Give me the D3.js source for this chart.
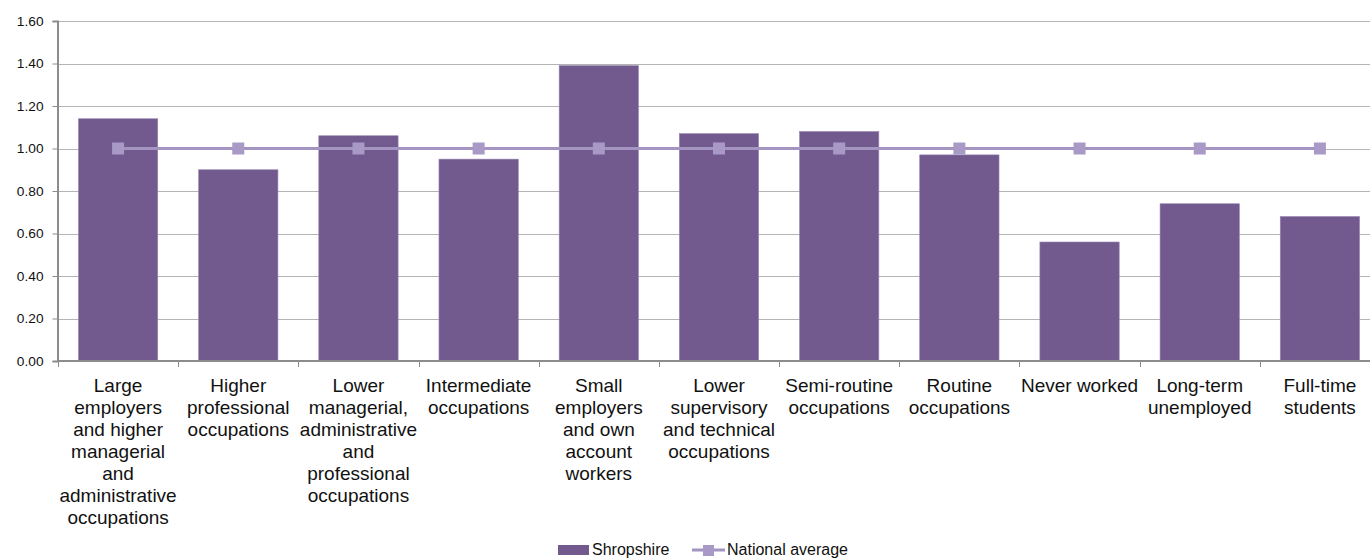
<!DOCTYPE html>
<html>
<head>
<meta charset="utf-8">
<script src="https://cdn.jsdelivr.net/npm/d3@7"></script>
<style>
  html, body { margin: 0; padding: 0; background: #fff; }
  svg { display: block; font-family: "Liberation Sans", Arial, sans-serif; }
</style>
</head>
<body>
<svg id="chart" width="1370" height="558"></svg>
<script>
const categories = [
  "Large employers and higher managerial and administrative occupations",
  "Higher professional occupations",
  "Lower managerial, administrative and professional occupations",
  "Intermediate occupations",
  "Small employers and own account workers",
  "Lower supervisory and technical occupations",
  "Semi-routine occupations",
  "Routine occupations",
  "Never worked",
  "Long-term unemployed",
  "Full-time students"
];
const shropshire = [1.14, 0.90, 1.06, 0.95, 1.39, 1.07, 1.08, 0.97, 0.56, 0.74, 0.68];
const nationalAverage = [1, 1, 1, 1, 1, 1, 1, 1, 1, 1, 1];
const yTicks = [0, 0.2, 0.4, 0.6, 0.8, 1.0, 1.2, 1.4, 1.6];
const seriesNames = ["Shropshire", "National average"];

const barColor = "#725a8f";
const lineColor = "#a394c2";
const markerColor = "#a899c6";

const svg = d3.select("#chart");
const mLeft = 58, mTop = 21, plotW = 1322, plotH = 340;
const W = 1370;

const x = d3.scaleBand().domain(categories).range([mLeft, mLeft + plotW])
  .paddingInner(0.34).paddingOuter(0.17);
const y = d3.scaleLinear().domain([0, 1.6]).range([mTop + plotH, mTop]);

// gridlines
svg.append("g").selectAll("line").data(yTicks.filter(d => d > 0)).join("line")
  .attr("x1", mLeft).attr("x2", W)
  .attr("y1", d => Math.round(y(d)) + 0.5).attr("y2", d => Math.round(y(d)) + 0.5)
  .attr("stroke", "#b4b4b4").attr("stroke-width", 1);

// bars
svg.append("g").selectAll("rect").data(categories).join("rect")
  .attr("x", d => x(d))
  .attr("y", (d, i) => y(shropshire[i]))
  .attr("width", x.bandwidth())
  .attr("height", (d, i) => y(0) - y(shropshire[i]))
  .attr("fill", barColor)
  .attr("stroke", "#9888b0").attr("stroke-width", 0.6);

// y axis
const yAxis = svg.append("g").attr("transform", `translate(${mLeft - 0.5},0)`)
  .call(d3.axisLeft(y).tickValues(yTicks).tickFormat(d3.format(".2f")).tickSize(5).tickPadding(9));
yAxis.select(".domain").attr("stroke", "#8c8c8c").attr("stroke-width", 2);
yAxis.selectAll(".tick line").attr("stroke", "#8c8c8c");
yAxis.selectAll(".tick text").attr("font-size", "13.7px").attr("fill", "#111")
  .attr("font-family", "Liberation Sans, Arial, sans-serif");

// x axis line
svg.append("line").attr("x1", mLeft - 1).attr("x2", W)
  .attr("y1", y(0)).attr("y2", y(0))
  .attr("stroke", "#8c8c8c").attr("stroke-width", 2);
// x ticks at band boundaries
const step = x.step();
svg.append("g").selectAll("line").data(d3.range(categories.length + 1)).join("line")
  .attr("x1", i => Math.round(mLeft + i * step) + 0.5).attr("x2", i => Math.round(mLeft + i * step) + 0.5)
  .attr("y1", y(0)).attr("y2", y(0) + 6)
  .attr("stroke", "#8c8c8c").attr("stroke-width", 1);

// x labels with wrapping
const fontSize = 19, lineH = 22, maxW = step - 1;
const labelG = svg.append("g").attr("font-size", fontSize + "px").attr("fill", "#111").attr("text-anchor", "middle");
categories.forEach(c => {
  const t = labelG.append("text").attr("x", x(c) + x.bandwidth() / 2).attr("y", 392);
  const words = c.split(" ");
  let lines = [], cur = [];
  const probe = labelG.append("text").attr("visibility", "hidden");
  words.forEach(w => {
    const test = cur.concat([w]).join(" ");
    probe.text(test);
    if (cur.length && probe.node().getComputedTextLength() > maxW) {
      lines.push(cur.join(" "));
      cur = [w];
    } else cur.push(w);
  });
  lines.push(cur.join(" "));
  probe.remove();
  lines.forEach((l, i) => {
    t.append("tspan").attr("x", x(c) + x.bandwidth() / 2).attr("dy", i === 0 ? 0 : lineH).text(l);
  });
});

// national average line
const cx = c => x(c) + x.bandwidth() / 2;
svg.append("path").datum(categories)
  .attr("d", d3.line().x(c => cx(c)).y((c, i) => y(nationalAverage[i])))
  .attr("fill", "none").attr("stroke", lineColor).attr("stroke-width", 3);
svg.append("g").selectAll("rect").data(categories).join("rect")
  .attr("x", c => cx(c) - 6).attr("y", (c, i) => y(nationalAverage[i]) - 6)
  .attr("width", 12).attr("height", 12).attr("fill", markerColor);

// legend
const lg = svg.append("g").attr("font-size", "16px").attr("fill", "#111");
lg.append("rect").attr("x", 558).attr("y", 545).attr("width", 31).attr("height", 10).attr("fill", barColor);
lg.append("text").attr("x", 592).attr("y", 554.5).text(seriesNames[0]);
lg.append("line").attr("x1", 692).attr("x2", 725).attr("y1", 550).attr("y2", 550)
  .attr("stroke", lineColor).attr("stroke-width", 3);
lg.append("rect").attr("x", 703).attr("y", 545).attr("width", 11).attr("height", 11).attr("fill", markerColor);
lg.append("text").attr("x", 727).attr("y", 554.5).text(seriesNames[1]);
</script>
</body>
</html>
